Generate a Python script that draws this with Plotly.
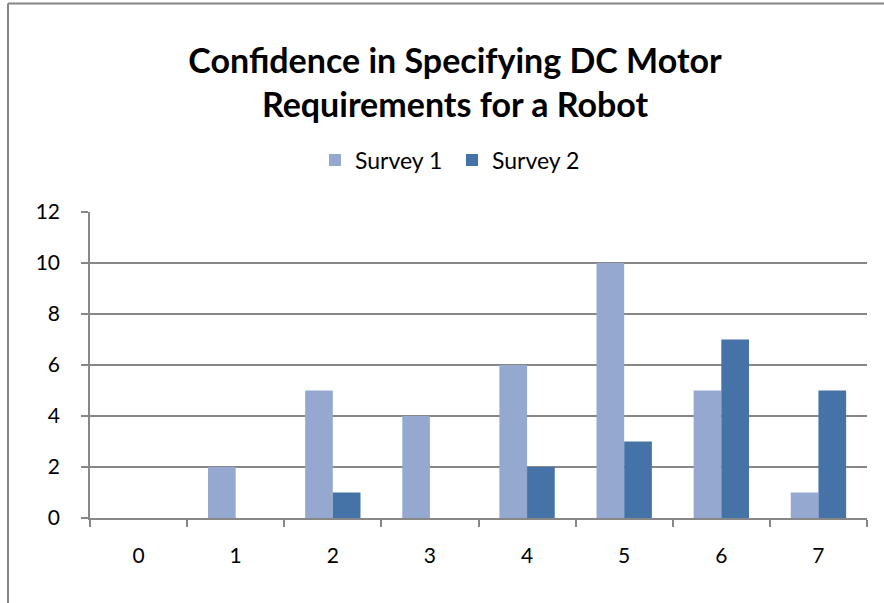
import plotly.graph_objects as go

categories = ["0", "1", "2", "3", "4", "5", "6", "7"]
survey1 = [0, 2, 5, 4, 6, 10, 5, 1]
survey2 = [0, 0, 1, 0, 2, 3, 7, 5]
title_text = "Confidence in Specifying DC Motor<br>Requirements for a Robot"

FONT = "Lato"
GRID = "#878787"

fig = go.Figure()
fig.add_trace(go.Bar(x=categories, y=survey1, name="Survey 1", marker=dict(color="#95A9D0", line=dict(width=0))))
fig.add_trace(go.Bar(x=categories, y=survey2, name="Survey 2", marker=dict(color="#4573A7", line=dict(width=0))))

W, H = 884, 603
L, R, T, B = 90, 867, 212, 518
pw, ph = R - L, B - T

def px2x(px):
    return (px - L) / pw

def py2y(py):
    return (B - py) / ph

fig.update_layout(
    width=W, height=H,
    margin=dict(l=L, r=W - R, t=T, b=H - B, pad=0),
    paper_bgcolor="white", plot_bgcolor="white",
    barmode="group", bargap=0.43, bargroupgap=0,
    font=dict(family=FONT, size=21, color="black"),
    title=dict(text=title_text, x=px2x(455), xanchor="center", xref="paper",
               y=1 - 72.5 / H, yanchor="middle", yref="container",
               font=dict(family=FONT, size=34, color="black", weight="bold")),
    showlegend=True,
    legend=dict(orientation="h", x=px2x(452), xanchor="center", y=py2y(160), yanchor="middle",
                font=dict(family=FONT, size=23), itemwidth=30, traceorder="normal",
                entrywidth=92, entrywidthmode="pixels"),
    xaxis=dict(type="category", showgrid=False, showline=True, linecolor=GRID, linewidth=1.5,
               ticks="outside", tickson="boundaries", ticklen=7, tickcolor=GRID, tickwidth=1.5,
               ticklabelstandoff=18, tickfont=dict(family=FONT, size=21), mirror=False),
    yaxis=dict(range=[0, 12], dtick=2, tick0=0, showgrid=True, gridcolor=GRID, gridwidth=1.5,
               showline=True, linecolor=GRID, linewidth=1.5, zeroline=False,
               ticks="outside", ticklen=7, tickcolor=GRID, tickwidth=1.5,
               ticklabelstandoff=17, tickfont=dict(family=FONT, size=21)),
    shapes=[
        dict(type="line", xref="paper", yref="paper", x0=px2x(8), x1=px2x(8), y0=py2y(3.5), y1=py2y(610),
             line=dict(color="#868686", width=2)),
        dict(type="line", xref="paper", yref="paper", x0=px2x(8), x1=px2x(900), y0=py2y(3.5), y1=py2y(3.5),
             line=dict(color="#868686", width=2)),
    ],
)

fig.write_html("out.html", config={"displayModeBar": False},
               post_script="document.body.style.margin='0';document.body.style.overflow='hidden';")
